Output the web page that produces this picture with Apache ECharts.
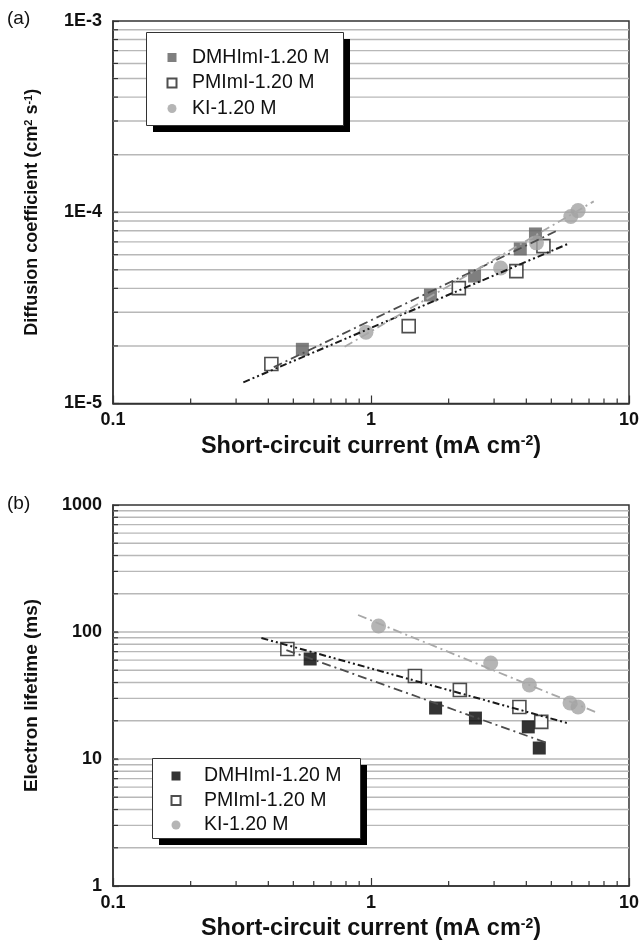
<!DOCTYPE html>
<html><head><meta charset="utf-8">
<script src="https://cdn.jsdelivr.net/npm/echarts@6/dist/echarts.min.js"></script>
<style>html,body{margin:0;padding:0;background:#fff}#c{width:642px;height:948px}</style>
</head><body><div id="c"></div>
<script>
const FONT = '"Liberation Sans", Arial, Helvetica, sans-serif';

// ---- Panel (a): diffusion coefficient vs short-circuit current ----
const aDMHImI_x = [0.542, 1.70, 2.52, 3.79, 4.34];
const aDMHImI_y = [1.92e-5, 3.69e-5, 4.64e-5, 6.43e-5, 7.7e-5];
const aPMImI_x  = [0.411, 1.40, 2.19, 3.66, 4.66];
const aPMImI_y  = [1.61e-5, 2.54e-5, 4.01e-5, 4.92e-5, 6.65e-5];
const aKI_x     = [0.956, 3.18, 4.38, 5.95, 6.35];
const aKI_y     = [2.36e-5, 5.11e-5, 6.92e-5, 9.5e-5, 1.02e-4];
// trend lines (end points)
const aFitDMHImI_x = [0.42, 5.3];  const aFitDMHImI_y = [1.55e-5, 8.05e-5];
const aFitPMImI_x  = [0.32, 5.9];  const aFitPMImI_y  = [1.29e-5, 6.9e-5];
const aFitKI_x     = [0.79, 7.3];  const aFitKI_y     = [1.98e-5, 1.14e-4];

// ---- Panel (b): electron lifetime vs short-circuit current ----
const bDMHImI_x = [0.581, 1.78, 2.54, 4.07, 4.49];
const bDMHImI_y = [61.3, 25.2, 21.0, 17.9, 12.2];
const bPMImI_x  = [0.474, 1.48, 2.21, 3.76, 4.57];
const bPMImI_y  = [73.5, 45.0, 34.9, 25.7, 19.6];
const bKI_x     = [1.07, 2.91, 4.11, 5.91, 6.35];
const bKI_y     = [111.5, 57.0, 38.3, 27.6, 25.7];
const bFitDMHImI_x = [0.47, 4.8];   const bFitDMHImI_y = [72.1, 13.4];
const bFitPMImI_x  = [0.376, 5.76]; const bFitPMImI_y  = [89.7, 19.2];
const bFitKI_x     = [0.891, 7.59]; const bFitKI_y     = [136, 23.0];

// ---- ticks / labels ----
const legendNames = ['DMHImI-1.20 M', 'PMImI-1.20 M', 'KI-1.20 M'];
const xTickLabels = ['0.1', '1', '10'];
const aYTickLabels = ['1E-5', '1E-4', '1E-3'];
const bYTickLabels = ['1', '10', '100', '1000'];
const xMinorTicks = [0.2,0.3,0.4,0.5,0.6,0.7,0.8,0.9,2,3,4,5,6,7,8,9];
const aGridValues = [2e-5,3e-5,4e-5,5e-5,6e-5,7e-5,8e-5,9e-5,1e-4,2e-4,3e-4,4e-4,5e-4,6e-4,7e-4,8e-4,9e-4];
const bGridValues = [2,3,4,5,6,7,8,9,10,20,30,40,50,60,70,80,90,100,200,300,400,500,600,700,800,900];

const pairs = (xs, ys) => xs.map((x, i) => [x, ys[i]]);
const decade = v => Math.round(Math.log10(v));

function hGrid(params, api) {
  const v = api.value(1);
  const p0 = api.coord([0.1, v]);
  const p1 = api.coord([10, v]);
  return {type: 'group', children: [
    {type: 'line', shape: {x1: p0[0], y1: p0[1], x2: p1[0], y2: p1[1]}, style: {stroke: '#b8b8b8', lineWidth: 1.4}},
    {type: 'line', shape: {x1: p0[0], y1: p0[1], x2: p0[0] + 5, y2: p0[1]}, style: {stroke: '#333', lineWidth: 1.2}}
  ]};
}
function vTicks(yMin) {
  return function (params, api) {
    const p = api.coord([api.value(0), yMin]);
    return {type: 'line', shape: {x1: p[0], y1: p[1], x2: p[0], y2: p[1] - 5}, style: {stroke: '#333', lineWidth: 1.2}};
  };
}

const labelStyle = {fontSize: 18, fontWeight: 'bold', color: '#111', fontFamily: FONT};
function titleRich(size) {
  return {
    t: {fontSize: size, fontWeight: 'bold', color: '#111', fontFamily: FONT},
    s: {fontSize: Math.round(size * 0.6), fontWeight: 'bold', color: '#111', fontFamily: FONT, verticalAlign: 'top'}
  };
}

function xAxisOf(gi) {
  return {
    type: 'log', logBase: 10, min: 0.1, max: 10, gridIndex: gi,
    axisLine: {lineStyle: {color: '#333', width: 1.5}},
    axisTick: {inside: true, length: 8, lineStyle: {color: '#333', width: 1.2}},
    axisLabel: Object.assign({margin: 8, showMinLabel: true, showMaxLabel: true,
      formatter: v => xTickLabels[decade(v) + 1]}, labelStyle),
    splitLine: {show: false},
    name: '{t|Short-circuit current (mA cm}{s|-2}{t|)}',
    nameLocation: 'middle', nameGap: 31,
    nameTextStyle: {rich: titleRich(23.5)}
  };
}

function yAxisOf(gi, min, max, labels, off, name, size) {
  return {
    type: 'log', logBase: 10, min: min, max: max, gridIndex: gi,
    axisLine: {lineStyle: {color: '#333', width: 1.5}},
    axisTick: {inside: true, length: 6, lineStyle: {color: '#333', width: 1.2}},
    axisLabel: Object.assign({margin: 11, showMinLabel: true, showMaxLabel: true,
      formatter: v => labels[decade(v) + off]}, labelStyle),
    splitLine: {show: false},
    name: name, nameLocation: 'middle', nameGap: 72, nameRotate: 90,
    nameTextStyle: {rich: titleRich(size)}
  };
}

function legendOf(prefix, left, top, pad, textPad, gap) {
  return {
    orient: 'vertical', left: left, top: top, padding: pad, z: 20,
    itemWidth: 9, itemHeight: 9, itemGap: gap,
    backgroundColor: 'transparent', borderWidth: 0,
    textStyle: {fontSize: 19.5, color: '#111', fontFamily: FONT, padding: [0, 0, 0, textPad]},
    selectedMode: false,
    formatter: n => n.slice(2),
    data: legendNames.map(n => prefix + n)
  };
}

function legendBox(x, y, w, h) {
  return [
    {type: 'rect', left: x + 7, top: y + 7, z: 10, shape: {width: w, height: h}, style: {fill: '#000'}},
    {type: 'rect', left: x, top: y, z: 11, shape: {width: w, height: h}, style: {fill: '#fff', stroke: '#333', lineWidth: 1}}
  ];
}

const openStyle = {color: '#fff', borderColor: '#222', borderWidth: 1.6};
const fitBlack = {color: '#1a1a1a', width: 2, type: [7, 3, 2, 3, 2, 3]};
const fitDark = {color: '#4d4d4d', width: 1.8, type: [9, 4, 2, 4]};
const fitLight = {color: '#a8a8a8', width: 1.8, type: [9, 4, 2, 4]};

function fit(gi, xs, ys, style) {
  return {type: 'line', xAxisIndex: gi, yAxisIndex: gi, data: pairs(xs, ys), symbol: 'none',
    lineStyle: style, z: 5, silent: true};
}

const option = {
  animation: false,
  backgroundColor: '#fff',
  grid: [
    {left: 113, top: 21, width: 518, height: 382.5, show: true, borderColor: '#333', borderWidth: 1.5, backgroundColor: '#fff'},
    {left: 113, top: 505, width: 518, height: 381, show: true, borderColor: '#333', borderWidth: 1.5, backgroundColor: '#fff'}
  ],
  xAxis: [xAxisOf(0), xAxisOf(1)],
  yAxis: [
    yAxisOf(0, 1e-5, 1e-3, aYTickLabels, 5, '{t|Diffusion coefficient (cm}{s|2}{t| s}{s|-1}{t|)}', 18),
    yAxisOf(1, 1, 1000, bYTickLabels, 0, '{t|Electron lifetime (ms)}', 19)
  ],
  legend: [
    legendOf('a:', 146, 32, [15.5, 14, 7.5, 20.5], 10.5, 5.5),
    legendOf('b:', 152, 758, [8, 14, 4, 18.5], 18.5, 4.5)
  ],
  graphic: [].concat(
    legendBox(146, 32, 197, 93),
    legendBox(152, 758, 208, 80),
    [
      {type: 'text', left: 7, top: 9, z: 11, style: {text: '(a)', fontSize: 19, fill: '#111', fontFamily: FONT}},
      {type: 'text', left: 7, top: 494, z: 11, style: {text: '(b)', fontSize: 19, fill: '#111', fontFamily: FONT}}
    ]
  ),
  series: [
    // panel (a) grid & ticks
    {type: 'custom', xAxisIndex: 0, yAxisIndex: 0, data: aGridValues.map(v => [1, v]), renderItem: hGrid, z: 1, silent: true},
    {type: 'custom', xAxisIndex: 0, yAxisIndex: 0, data: xMinorTicks.map(v => [v, 1e-5]), renderItem: vTicks(1e-5), z: 1, silent: true},
    // panel (b) grid & ticks
    {type: 'custom', xAxisIndex: 1, yAxisIndex: 1, data: bGridValues.map(v => [1, v]), renderItem: hGrid, z: 1, silent: true},
    {type: 'custom', xAxisIndex: 1, yAxisIndex: 1, data: xMinorTicks.map(v => [v, 1]), renderItem: vTicks(1), z: 1, silent: true},

    // panel (a) markers
    {name: 'a:' + legendNames[0], type: 'scatter', xAxisIndex: 0, yAxisIndex: 0, symbol: 'rect', symbolSize: 13,
     itemStyle: {color: '#5f5f5f'}, data: pairs(aDMHImI_x, aDMHImI_y), z: 3},
    {name: 'a:' + legendNames[1], type: 'scatter', xAxisIndex: 0, yAxisIndex: 0, symbol: 'rect', symbolSize: 13,
     itemStyle: openStyle, data: pairs(aPMImI_x, aPMImI_y), z: 3},
    {name: 'a:' + legendNames[2], type: 'scatter', xAxisIndex: 0, yAxisIndex: 0, symbol: 'circle', symbolSize: 15,
     itemStyle: {color: '#a3a3a3'}, data: pairs(aKI_x, aKI_y), z: 3},
    fit(0, aFitDMHImI_x, aFitDMHImI_y, fitDark),
    fit(0, aFitPMImI_x, aFitPMImI_y, fitBlack),
    fit(0, aFitKI_x, aFitKI_y, fitLight),

    // panel (b) markers
    {name: 'b:' + legendNames[0], type: 'scatter', xAxisIndex: 1, yAxisIndex: 1, symbol: 'rect', symbolSize: 13,
     itemStyle: {color: '#000'}, data: pairs(bDMHImI_x, bDMHImI_y), z: 3},
    {name: 'b:' + legendNames[1], type: 'scatter', xAxisIndex: 1, yAxisIndex: 1, symbol: 'rect', symbolSize: 13,
     itemStyle: openStyle, data: pairs(bPMImI_x, bPMImI_y), z: 3},
    {name: 'b:' + legendNames[2], type: 'scatter', xAxisIndex: 1, yAxisIndex: 1, symbol: 'circle', symbolSize: 15,
     itemStyle: {color: '#a3a3a3'}, data: pairs(bKI_x, bKI_y), z: 3},
    fit(1, bFitDMHImI_x, bFitDMHImI_y, fitDark),
    fit(1, bFitPMImI_x, bFitPMImI_y, fitBlack),
    fit(1, bFitKI_x, bFitKI_y, fitLight)
  ]
};

const chart = echarts.init(document.getElementById('c'), null, {renderer: 'canvas'});
chart.setOption(option);
</script>
</body></html>
